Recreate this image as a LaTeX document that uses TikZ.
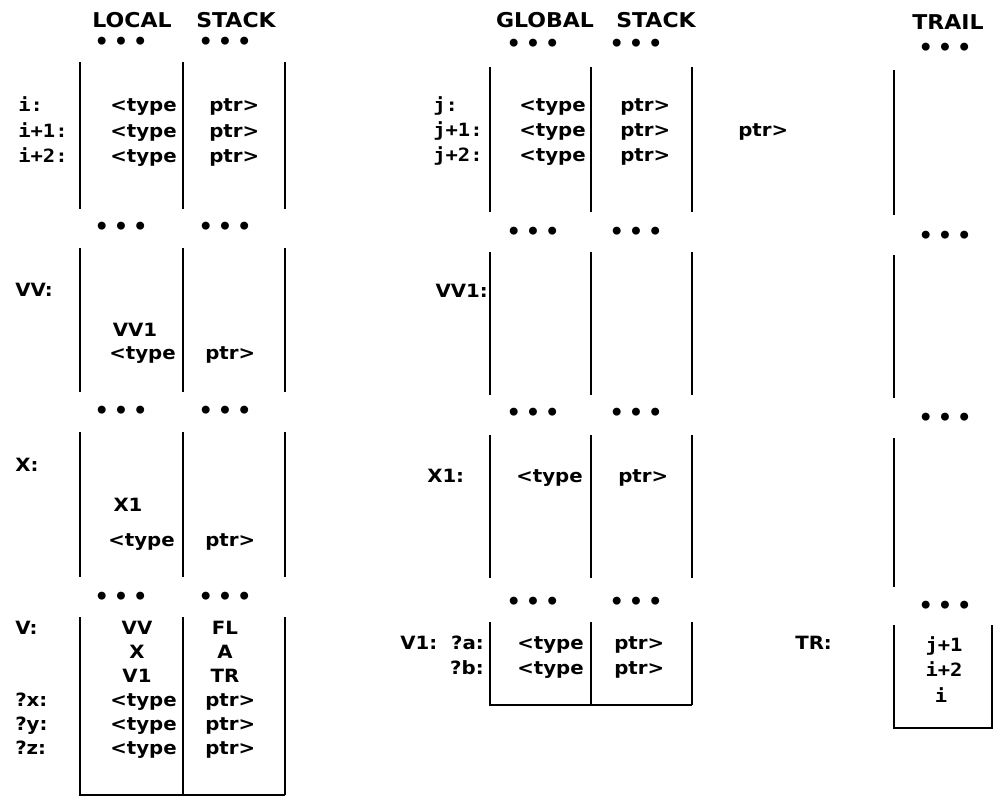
\documentclass[tikz,border=0pt]{standalone}
\usepackage{fontspec}
\setmainfont{DejaVu Sans}[FakeStretch=1.08]
\newfontfamily\idxfont{DejaVu Sans Mono}[FakeStretch=1.12]
\newfontfamily\dotfont{DejaVu Sans}

\begin{document}
\begin{tikzpicture}[
  x=0.025cm, y=-0.025cm,
  wall/.style={line width=1.5pt},
  head/.style={font=\fontsize{14.5}{17}\selectfont\bfseries, inner sep=0pt},
  dots/.style={font=\fontsize{16}{18}\dotfont\bfseries, inner sep=0pt},
  txt/.style={font=\fontsize{13}{15}\selectfont\bfseries, inner sep=0pt, text height=9.5pt, text depth=2.5pt},
  idx/.style={txt, font=\fontsize{13}{15}\idxfont\bfseries},
]
  \useasboundingbox (0,0) rectangle (993,805);

  % Headings
  \node[head] (loctitle) at (132,20) {LOCAL};
  \node[head] (lstktitle) at (236,20) {STACK};
  \node[head] (globtitle) at (545,20) {GLOBAL};
  \node[head] (gstktitle) at (656,20) {STACK};
  \node[head] (trailtitle) at (948,22) {TRAIL};

  % Local stack: walls
  \draw[wall] (80,62) -- (80,209) (80,248) -- (80,392) (80,432) -- (80,577)
              (80,617) -- (80,795) -- (285,795);
  \draw[wall] (183,62) -- (183,209) (183,248) -- (183,392) (183,432) -- (183,577)
              (183,617) -- (183,795);
  \draw[wall] (285,62) -- (285,209) (285,248) -- (285,392) (285,432) -- (285,577)
              (285,617) -- (285,795);

  % Local stack: gaps
  \node[dots] (ldot1a) at (121,43) {•\hspace{3.5pt}•\hspace{3.5pt}•};
  \node[dots] (ldot1b) at (225,43) {•\hspace{3.5pt}•\hspace{3.5pt}•};
  \node[dots] (ldot2a) at (121,228) {•\hspace{3.5pt}•\hspace{3.5pt}•};
  \node[dots] (ldot2b) at (225,228) {•\hspace{3.5pt}•\hspace{3.5pt}•};
  \node[dots] (ldot3a) at (121,412) {•\hspace{3.5pt}•\hspace{3.5pt}•};
  \node[dots] (ldot3b) at (225,412) {•\hspace{3.5pt}•\hspace{3.5pt}•};
  \node[dots] (ldot4a) at (121,598) {•\hspace{3.5pt}•\hspace{3.5pt}•};
  \node[dots] (ldot4b) at (225,598) {•\hspace{3.5pt}•\hspace{3.5pt}•};

  % Local stack: frame i
  \node[idx, anchor=west] (li0) at (18,107) {i:};
  \node[idx, anchor=west] (li1) at (18,133) {i+1:};
  \node[idx, anchor=west] (li2) at (18,158) {i+2:};
  \node[txt, anchor=east] (lty0) at (177,107) {<type};
  \node[txt, anchor=east] (lty1) at (177,133) {<type};
  \node[txt, anchor=east] (lty2) at (177,158) {<type};
  \node[txt, anchor=west] (lpt0) at (209,107) {ptr>};
  \node[txt, anchor=west] (lpt1) at (209,133) {ptr>};
  \node[txt, anchor=west] (lpt2) at (209,158) {ptr>};

  % Local stack: VV
  \node[txt, anchor=west] (lvv) at (15,292) {VV:};
  \node[txt] (lvv1) at (135,332) {VV1};
  \node[txt, anchor=east] (lvvty) at (176,355) {<type};
  \node[txt, anchor=west] (lvvpt) at (205,355) {ptr>};

  % Local stack: X
  \node[txt, anchor=west] (lx) at (15,467) {X:};
  \node[txt] (lx1) at (128,507) {X1};
  \node[txt, anchor=east] (lxty) at (175,542) {<type};
  \node[txt, anchor=west] (lxpt) at (205,542) {ptr>};

  % Local stack: V
  \node[txt, anchor=west] (lv) at (15,630) {V:};
  \node[txt] (lvvv) at (137,630) {VV};
  \node[txt] (lvfl) at (225,630) {FL};
  \node[txt] (lvx) at (137,654) {X};
  \node[txt] (lva) at (225,654) {A};
  \node[txt] (lvv1b) at (137,678) {V1};
  \node[txt] (lvtr) at (225,678) {TR};
  \node[txt, anchor=west] (lqx) at (15,702) {?x:};
  \node[txt, anchor=west] (lqy) at (15,726) {?y:};
  \node[txt, anchor=west] (lqz) at (15,750) {?z:};
  \node[txt, anchor=east] (lqxty) at (177,702) {<type};
  \node[txt, anchor=east] (lqyty) at (177,726) {<type};
  \node[txt, anchor=east] (lqzty) at (177,750) {<type};
  \node[txt, anchor=west] (lqxpt) at (205,702) {ptr>};
  \node[txt, anchor=west] (lqypt) at (205,726) {ptr>};
  \node[txt, anchor=west] (lqzpt) at (205,750) {ptr>};

  % Global stack: walls
  \draw[wall] (490,67) -- (490,212) (490,252) -- (490,395) (490,435) -- (490,578)
              (490,622) -- (490,705) -- (692,705);
  \draw[wall] (591,67) -- (591,212) (591,252) -- (591,395) (591,435) -- (591,578)
              (591,622) -- (591,705);
  \draw[wall] (692,67) -- (692,212) (692,252) -- (692,395) (692,435) -- (692,578)
              (692,622) -- (692,705);

  % Global stack: gaps
  \node[dots] (gdot1a) at (533,45) {•\hspace{3.5pt}•\hspace{3.5pt}•};
  \node[dots] (gdot1b) at (636,45) {•\hspace{3.5pt}•\hspace{3.5pt}•};
  \node[dots] (gdot2a) at (533,233) {•\hspace{3.5pt}•\hspace{3.5pt}•};
  \node[dots] (gdot2b) at (636,233) {•\hspace{3.5pt}•\hspace{3.5pt}•};
  \node[dots] (gdot3a) at (533,414) {•\hspace{3.5pt}•\hspace{3.5pt}•};
  \node[dots] (gdot3b) at (636,414) {•\hspace{3.5pt}•\hspace{3.5pt}•};
  \node[dots] (gdot4a) at (533,603) {•\hspace{3.5pt}•\hspace{3.5pt}•};
  \node[dots] (gdot4b) at (636,603) {•\hspace{3.5pt}•\hspace{3.5pt}•};

  % Global stack: frame j
  \node[idx, anchor=west] (gj0) at (433,107) {j:};
  \node[idx, anchor=west] (gj1) at (433,132) {j+1:};
  \node[idx, anchor=west] (gj2) at (433,157) {j+2:};
  \node[txt, anchor=east] (gty0) at (586,107) {<type};
  \node[txt, anchor=east] (gty1) at (586,132) {<type};
  \node[txt, anchor=east] (gty2) at (586,157) {<type};
  \node[txt, anchor=west] (gpt0) at (620,107) {ptr>};
  \node[txt, anchor=west] (gpt1) at (620,132) {ptr>};
  \node[txt, anchor=west] (gpt2) at (620,157) {ptr>};
  \node[txt, anchor=west] (gptx) at (738,132) {ptr>};

  % Global stack: VV1, X1, V1
  \node[txt, anchor=east] (gvv1) at (488,293) {VV1:};
  \node[txt, anchor=west] (gx1) at (427,478) {X1:};
  \node[txt, anchor=east] (gx1ty) at (583,478) {<type};
  \node[txt, anchor=west] (gx1pt) at (618,478) {ptr>};
  \node[txt, anchor=west] (gv1) at (400,645) {V1:};
  \node[txt, anchor=east] (gqa) at (484,645) {?a:};
  \node[txt, anchor=east] (gqb) at (484,670) {?b:};
  \node[txt, anchor=east] (gqaty) at (584,645) {<type};
  \node[txt, anchor=east] (gqbty) at (584,670) {<type};
  \node[txt, anchor=west] (gqapt) at (614,645) {ptr>};
  \node[txt, anchor=west] (gqbpt) at (614,670) {ptr>};

  % Trail
  \draw[wall] (894,70) -- (894,215) (894,255) -- (894,398) (894,438) -- (894,587)
              (894,625) -- (894,728) -- (993,728);
  \draw[wall] (992,625) -- (992,728);
  \node[dots] (tdot1) at (945,49) {•\hspace{3.5pt}•\hspace{3.5pt}•};
  \node[dots] (tdot2) at (945,237) {•\hspace{3.5pt}•\hspace{3.5pt}•};
  \node[dots] (tdot3) at (945,419) {•\hspace{3.5pt}•\hspace{3.5pt}•};
  \node[dots] (tdot4) at (945,607) {•\hspace{3.5pt}•\hspace{3.5pt}•};
  \node[txt, anchor=west] (ttr) at (795,645) {TR:};
  \node[idx] (tj1) at (944,647) {j+1};
  \node[idx] (ti2) at (944,672) {i+2};
  \node[idx] (ti0) at (941,698) {i};
\end{tikzpicture}
\end{document}
